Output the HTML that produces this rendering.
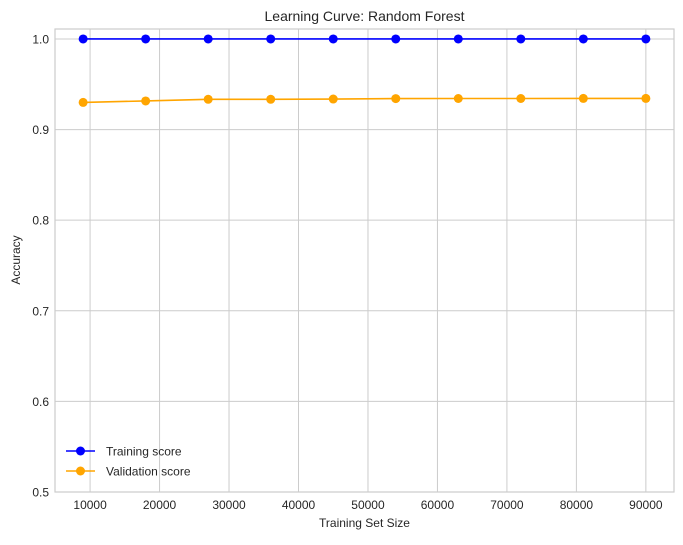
<!DOCTYPE html>
<html><head><meta charset="utf-8"><style>
body{margin:0;background:#fff;}
svg{font-family:"Liberation Sans","DejaVu Sans",sans-serif;}
</style></head><body>
<svg width="683" height="540" viewBox="0 0 683 540">
<g id="grid"></g>
<rect x="55" y="29" width="619" height="463" fill="none" stroke="#cccccc" stroke-width="1.2"/>
<g id="ticks"></g>
<g id="series"></g>
<text x="364.5" y="21" text-anchor="middle" font-size="14" fill="#262626">Learning Curve: Random Forest</text>
<text x="364.5" y="527" text-anchor="middle" font-size="12" fill="#262626">Training Set Size</text>
<text x="20" y="260" text-anchor="middle" font-size="12" fill="#262626" transform="rotate(-90 20 260)">Accuracy</text>
<g>
<g>
<line x1="66" y1="451" x2="95" y2="451" stroke="#0000ff" stroke-width="1.6"/>
<circle cx="80.5" cy="451" r="4.5" fill="#0000ff"/>
<text x="106" y="455.5" font-size="12" fill="#262626">Training score</text>
</g>
<g>
<line x1="66" y1="471" x2="95" y2="471" stroke="#ffa500" stroke-width="1.6"/>
<circle cx="80.5" cy="471" r="4.5" fill="#ffa500"/>
<text x="106" y="475.5" font-size="12" fill="#262626">Validation score</text>
</g>
</g>
</svg>
<script>
const sizes=[9000,18000,27000,36000,45000,54000,63000,72000,81000,90000];
const trainScores=[1,1,1,1,1,1,1,1,1,1];
const valScores=[0.930,0.9316,0.9334,0.9334,0.9337,0.9342,0.9343,0.9343,0.9344,0.9344];
const xTicks=[10000,20000,30000,40000,50000,60000,70000,80000,90000];
const yTicks=[0.5,0.6,0.7,0.8,0.9,1.0];
const NS="http://www.w3.org/2000/svg";
const L=55,R=674,T=29,B=492;
const xmin=4950,xmax=94050,ymin=0.5,ymax=1.011;
const X=v=>L+(v-xmin)/(xmax-xmin)*(R-L);
const Y=v=>B-(v-ymin)/(ymax-ymin)*(B-T);
function mk(tag,attrs,parent){const e=document.createElementNS(NS,tag);for(const k in attrs)e.setAttribute(k,attrs[k]);parent.appendChild(e);return e;}
const grid=document.getElementById('grid'),ticks=document.getElementById('ticks'),series=document.getElementById('series');
xTicks.forEach(t=>{
  const g=mk('line',{x1:X(t),x2:X(t),y1:T,y2:B,stroke:'#cccccc','stroke-width':1},grid);
  
  
  const tx=mk('text',{x:X(t),y:B+17,'text-anchor':'middle','font-size':12,fill:'#262626'},ticks);
  tx.textContent=t;
  
  
});
yTicks.forEach(t=>{
  const g=mk('line',{x1:L,x2:R,y1:Y(t),y2:Y(t),stroke:'#cccccc','stroke-width':1},grid);
  
  
  const tx=mk('text',{x:L-6,y:Y(t)+4.5,'text-anchor':'end','font-size':12,fill:'#262626'},ticks);
  tx.textContent=t.toFixed(1);
  
  
});
function drawSeries(vals,color,name){
  const pts=sizes.map((s,i)=>X(s)+','+Y(vals[i])).join(' ');
  const pl=mk('polyline',{points:pts,fill:'none',stroke:color,'stroke-width':1.6},series);
  
  
  sizes.forEach((s,i)=>{
    const c=mk('circle',{cx:X(s),cy:Y(vals[i]),r:4.5,fill:color},series);
    
    
  });
}
drawSeries(trainScores,'#0000ff','training-score');
drawSeries(valScores,'#ffa500','validation-score');
</script>
</body></html>
